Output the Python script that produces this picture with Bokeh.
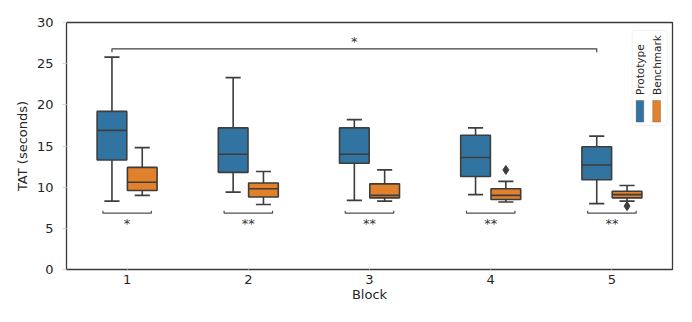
import numpy as np
from bokeh.plotting import figure
from bokeh.models import FixedTicker, BoxAnnotation, Label, ColumnDataSource
from bokeh.core.properties import value
from bokeh.embed import file_html
from bokeh.resources import INLINE

# ---------------- data ----------------
blocks = ["1", "2", "3", "4", "5"]

proto_low = [8.3, 9.4, 8.4, 9.1, 8.0]
proto_q1 = [13.3, 11.8, 12.9, 11.3, 10.9]
proto_med = [16.9, 14.0, 14.0, 13.6, 12.7]
proto_q3 = [19.2, 17.2, 17.2, 16.3, 14.9]
proto_high = [25.8, 23.3, 18.2, 17.2, 16.2]

bench_low = [9.0, 7.9, 8.3, 8.2, 8.3]
bench_q1 = [9.6, 8.8, 8.7, 8.5, 8.7]
bench_med = [10.6, 9.8, 9.0, 9.0, 9.1]
bench_q3 = [12.4, 10.5, 10.4, 9.8, 9.5]
bench_high = [14.8, 11.9, 12.1, 10.7, 10.2]

bench_outlier_block = [3, 4]      # index of block
bench_outlier_value = [12.1, 7.7]

pair_sig = ["*", "**", "**", "**", "**"]
overall_sig = "*"

# ---------------- style ----------------
BLUE = "#3274a1"
ORANGE = "#e1812c"
LINE = "#3d3d3d"
TEXT = "#262626"
FONT = "DejaVu Sans"
BOXW = 0.245
OFF = 0.125
CAPW = 0.0625

p = figure(width=684, height=314, x_range=(-0.5, 4.5), y_range=(0, 30),
           output_backend="svg", toolbar_location=None,
           min_border_left=66, min_border_right=12,
           min_border_top=22, min_border_bottom=45)
p.grid.visible = False
p.outline_line_color = "#3a3a3a"
p.outline_line_width = 1.3
p.background_fill_color = "white"
p.border_fill_color = "white"

xs = np.arange(len(blocks), dtype=float)


def draw_group(xc, low, q1, med, q3, high, color):
    src = ColumnDataSource(dict(
        x=xc, xl=xc - BOXW / 2, xr=xc + BOXW / 2,
        cl=xc - CAPW, cr=xc + CAPW,
        low=low, q1=q1, med=med, q3=q3, high=high))
    p.segment(x0="x", y0="q3", x1="x", y1="high", source=src,
              line_color=LINE, line_width=1.6)
    p.segment(x0="x", y0="q1", x1="x", y1="low", source=src,
              line_color=LINE, line_width=1.6)
    p.segment(x0="cl", y0="high", x1="cr", y1="high", source=src,
              line_color=LINE, line_width=1.6)
    p.segment(x0="cl", y0="low", x1="cr", y1="low", source=src,
              line_color=LINE, line_width=1.6)
    p.quad(left="xl", right="xr", bottom="q1", top="q3", source=src,
           fill_color=color, line_color=LINE, line_width=1.6)
    p.segment(x0="xl", y0="med", x1="xr", y1="med", source=src,
              line_color=LINE, line_width=1.6)


draw_group(xs - OFF, proto_low, proto_q1, proto_med, proto_q3, proto_high, BLUE)
draw_group(xs + OFF, bench_low, bench_q1, bench_med, bench_q3, bench_high, ORANGE)

# outliers
ox = np.array(bench_outlier_block, dtype=float) + OFF
p.scatter(ox, bench_outlier_value, marker="diamond", size=9,
          fill_color=LINE, line_color=LINE)

# pair brackets (below boxes)
BR_Y = 6.84
BR_TIP = 7.13
for i, s in enumerate(pair_sig):
    x0, x1 = xs[i] - 0.2, xs[i] + 0.2
    p.line([x0, x0, x1, x1], [BR_TIP, BR_Y, BR_Y, BR_TIP],
           line_color="#505050", line_width=1.2)
    p.text(x=[xs[i]], y=[6.5], text=[s], text_font=value(FONT),
           text_font_size="13px", text_color="#333333",
           text_align="center", text_baseline="top")

# overall bracket
bx0, bx1 = xs[0] - OFF, xs[4] - OFF
p.line([bx0, bx0, bx1, bx1], [26.4, 26.8, 26.8, 26.4],
       line_color="#404040", line_width=1.2)
p.text(x=[(bx0 + bx1) / 2], y=[28.55], text=[overall_sig], text_font=value(FONT),
       text_font_size="13px", text_color="#333333",
       text_align="center", text_baseline="top")

# ---------------- axes ----------------
p.xaxis.ticker = FixedTicker(ticks=list(xs))
p.xaxis.major_label_overrides = {float(i): b for i, b in enumerate(blocks)}
p.xaxis.major_label_overrides.update({i: b for i, b in enumerate(blocks)})
p.yaxis.ticker = FixedTicker(ticks=[0, 5, 10, 15, 20, 25, 30])
p.xaxis.axis_label = "Block"
p.yaxis.axis_label = "TAT (seconds)"

for ax in (p.xaxis, p.yaxis):
    ax.axis_line_color = None
    ax.minor_tick_line_color = None
    ax.major_tick_line_color = "#d8d8d8"
    ax.major_label_text_font = FONT
    ax.major_label_text_font_size = "13px"
    ax.major_label_text_color = TEXT
    ax.axis_label_text_font = FONT
    ax.axis_label_text_font_size = "13px"
    ax.axis_label_text_font_style = "normal"
    ax.axis_label_text_color = TEXT

p.xaxis.major_tick_in = 2
p.xaxis.major_tick_out = 0
p.xaxis.major_label_standoff = 5
p.xaxis.axis_label_standoff = 0
p.yaxis.major_tick_in = 0
p.yaxis.major_tick_out = 4
p.yaxis.major_label_standoff = 9
p.yaxis.axis_label_standoff = 4

# ---------------- legend (vertical text) ----------------
p.add_layout(BoxAnnotation(left=4.167, right=4.456, bottom=17.5, top=29.04,
                           fill_color="white", fill_alpha=1.0,
                           line_color="#cccccc", line_width=1,
                           border_radius=3))
p.add_layout(BoxAnnotation(left=4.200, right=4.263, bottom=17.9, top=20.53,
                           fill_color=BLUE, fill_alpha=1.0,
                           line_color=LINE, line_width=1))
p.add_layout(BoxAnnotation(left=4.337, right=4.401, bottom=17.9, top=20.53,
                           fill_color=ORANGE, fill_alpha=1.0,
                           line_color=LINE, line_width=1))
for lx, txt in ((4.232, "Prototype"), (4.369, "Benchmark")):
    p.add_layout(Label(x=lx, y=21.2, text=txt, angle=np.pi / 2,
                       text_font=FONT, text_font_size="10.5px", text_color=TEXT,
                       text_align="left", text_baseline="middle"))

open("out.html", "w").write(file_html(p, INLINE))
